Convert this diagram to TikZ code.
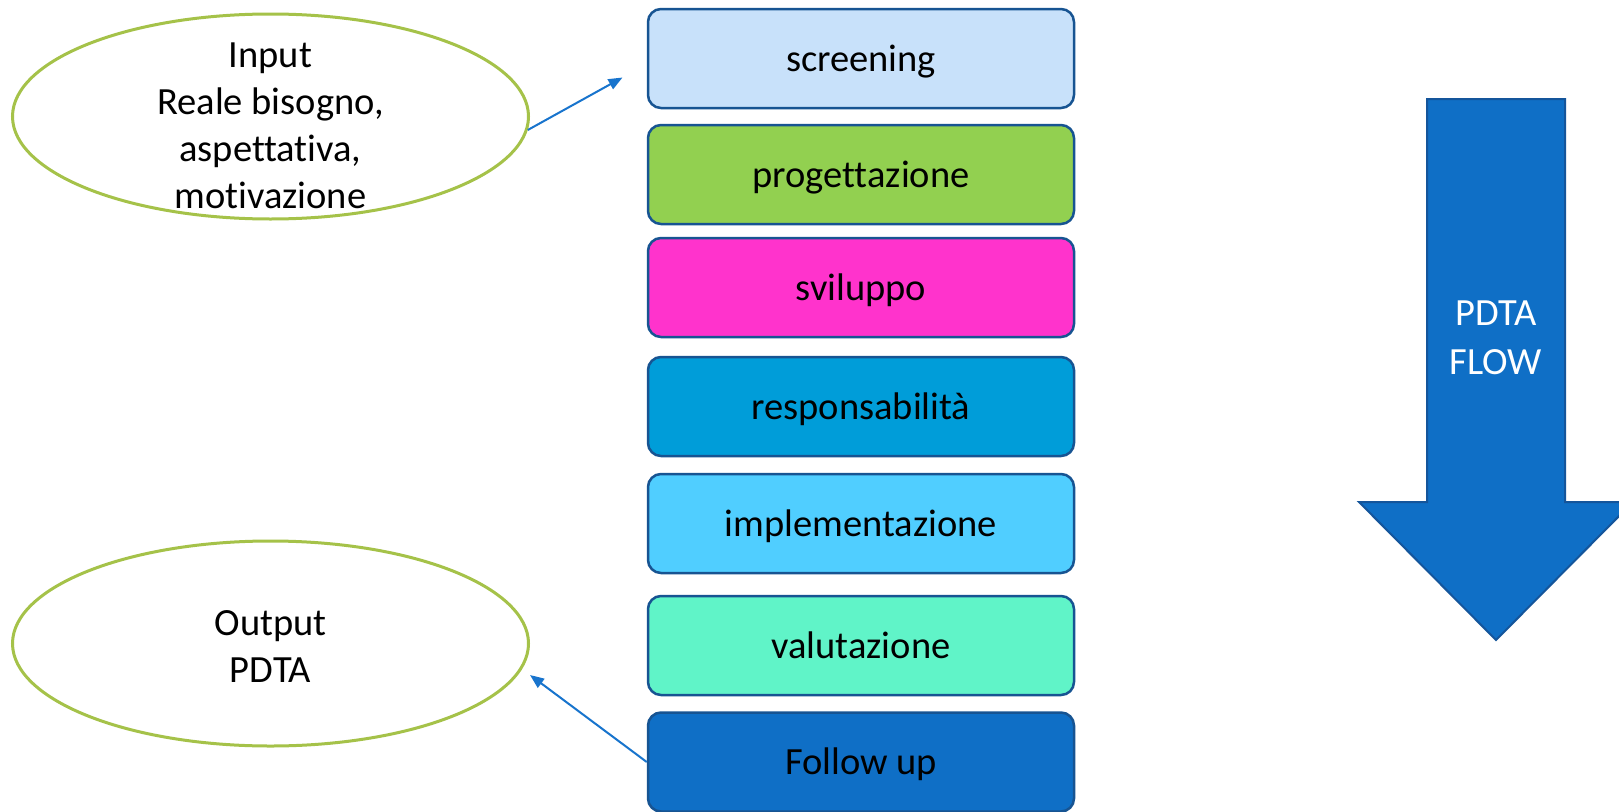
\documentclass[tikz,border=0pt]{standalone}
\usepackage{fontspec}
\setmainfont{Carlito}[Ligatures={NoCommon}]
\usetikzlibrary{shapes.geometric,arrows.meta}
\definecolor{boxline}{RGB}{23,84,146}
\definecolor{ellline}{HTML}{A5C249}
\definecolor{conn}{HTML}{1874CD}
\definecolor{cScreen}{HTML}{C8E1FA}
\definecolor{cProg}{HTML}{92D050}
\definecolor{cSvil}{HTML}{FF33CC}
\definecolor{cResp}{HTML}{009DD9}
\definecolor{cImpl}{HTML}{50CEFF}
\definecolor{cVal}{HTML}{60F4C8}
\definecolor{cFoll}{HTML}{0F6FC6}
\definecolor{bigarrow}{HTML}{0F6FC6}
\definecolor{bigline}{RGB}{20,85,155}
\tikzset{
  stage/.style={draw=boxline, line width=2.5pt, rounded corners=13pt,
    minimum width=426pt, minimum height=99pt, inner sep=0pt,
    text height=30pt, text depth=5pt,
    font=\fontsize{38.5}{47}\selectfont},
  oval/.style={draw=ellline, line width=3pt, ellipse, minimum width=516pt,
    minimum height=205pt, inner sep=0pt},
  ovaltext/.style={align=center, font=\fontsize{38.5}{47}\selectfont, inner sep=0pt},
  conn/.style={draw=conn, line width=2pt, -{Triangle[length=14pt,width=11pt]}}
}
\begin{document}
\begin{tikzpicture}[x=1pt,y=-1pt]
\clip (0,0) rectangle (1619,811);
\fill[white] (0,0) rectangle (1619,811);
% stages
\node[stage, fill=cScreen] (s1) at (861,58.5) {screening};
\node[stage, fill=cProg] (s2) at (861,174.5) {progettazione};
\node[stage, fill=cSvil] (s3) at (861,287.5) {sviluppo};
\node[stage, fill=cResp] (s4) at (861,406.5) {responsabilità};
\node[stage, fill=cImpl] (s5) at (861,523.5) {implementazione};
\node[stage, fill=cVal] (s6) at (861,645.5) {valutazione};
\node[stage, fill=cFoll] (s7) at (861,762) {Follow up};
% ellipses
\node[oval] (in) at (270.5,116.5) {};
\node[ovaltext] (intext) at (270.5,126) {Input\\Reale bisogno,\\aspettativa,\\motivazione};
\node[oval] (out) at (270.5,643.5) {};
\node[ovaltext] (outtext) at (270.5,646) {Output\\PDTA};
% connectors
\coordinate (inTip) at (622.5,77.5);
\coordinate (outTip) at (530,675);
\draw[conn] (in.-3) -- (inTip);
\draw[conn] (s7.west) -- (outTip);
% big arrow
\draw[fill=bigarrow, draw=bigline, line width=2pt, line join=miter]
  (1427,99) -- (1565,99) -- (1565,502) -- (1633,502) -- (1496,640)
  -- (1359,502) -- (1427,502) -- cycle;
\node[align=center, text=white, font=\fontsize{38.5}{49}\selectfont] (flow) at (1496,338) {PDTA\\FLOW};
\end{tikzpicture}
\end{document}
